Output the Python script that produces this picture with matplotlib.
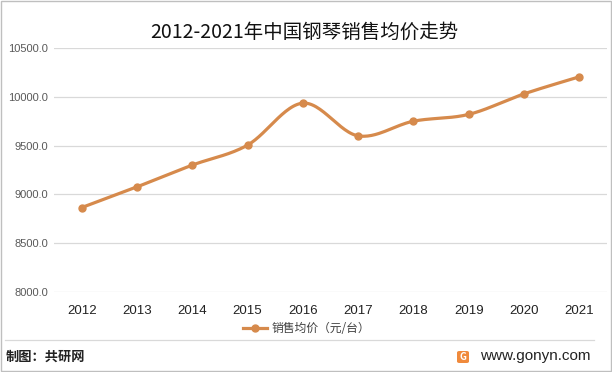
import numpy as np
import matplotlib
matplotlib.use("Agg")
import matplotlib.pyplot as plt
from matplotlib.patches import Rectangle, FancyBboxPatch
from matplotlib.lines import Line2D

plt.rcParams['font.family'] = ['Noto Sans CJK SC', 'DejaVu Sans']

# data
years = ["2012", "2013", "2014", "2015", "2016", "2017", "2018", "2019", "2020", "2021"]
avg_price = [8865, 9077, 9300, 9505, 9935, 9600, 9750, 9820, 10030, 10205]
y_ticks = [8000, 8500, 9000, 9500, 10000, 10500]

title = "2012-2021年中国钢琴销售均价走势"
series_name = "销售均价（元/台）"
source_text = "制图：共研网"
site_text = "www.gonyn.com"

LINE_COLOR = "#D68A4C"


# excel-style smoothed line through the points (bezier, tension 1/6)
def smooth_curve(xs, ys, steps=30):
    xs = np.asarray(xs, float)
    ys = np.asarray(ys, float)
    n = len(xs)
    out_x, out_y = [], []
    for i in range(n - 1):
        p0 = (xs[max(i - 1, 0)], ys[max(i - 1, 0)])
        p1 = (xs[i], ys[i])
        p2 = (xs[i + 1], ys[i + 1])
        p3 = (xs[min(i + 2, n - 1)], ys[min(i + 2, n - 1)])
        c1 = (p1[0] + (p2[0] - p0[0]) / 6, p1[1] + (p2[1] - p0[1]) / 6)
        c2 = (p2[0] - (p3[0] - p1[0]) / 6, p2[1] - (p3[1] - p1[1]) / 6)
        t = np.linspace(0, 1, steps)
        bx = (1 - t) ** 3 * p1[0] + 3 * (1 - t) ** 2 * t * c1[0] + 3 * (1 - t) * t ** 2 * c2[0] + t ** 3 * p2[0]
        by = (1 - t) ** 3 * p1[1] + 3 * (1 - t) ** 2 * t * c1[1] + 3 * (1 - t) * t ** 2 * c2[1] + t ** 3 * p2[1]
        out_x.extend(bx)
        out_y.extend(by)
    return out_x, out_y


W, H = 612, 372
fig = plt.figure(figsize=(W / 100, H / 100), dpi=100)

# plot area in pixels: left 54, right 607, top (10500) 48, bottom (8000) 292
ax = fig.add_axes([54 / W, 1 - 292 / H, (607 - 54) / W, (292 - 48) / H])

x = np.arange(len(years))
sx, sy = smooth_curve(x, avg_price)
ax.plot(sx, sy, color=LINE_COLOR, lw=2.3, solid_capstyle="round", zorder=3)
ax.plot(x, avg_price, "o", color=LINE_COLOR, ms=5, zorder=4)

ax.set_xlim(-0.5, len(years) - 0.5)
ax.set_ylim(8000, 10500)
ax.set_yticks(y_ticks)
ax.set_yticklabels([f"{v:.1f}" for v in y_ticks], fontsize=8, color="#595959",
                   family=['Liberation Sans', 'DejaVu Sans'])
ax.set_xticks(x)
ax.set_xticklabels(years, fontsize=9.5, color="#222222", family=['Liberation Sans', 'DejaVu Sans'])
ax.tick_params(length=0, pad=4)
ax.tick_params(axis="x", pad=9)
ax.grid(axis="y", color="#D9D9D9", lw=0.9)
ax.set_axisbelow(True)
for s in ax.spines.values():
    s.set_visible(False)
ax.patch.set_alpha(0)

fig.text(304 / W, 1 - 32 / H, title, ha="center", va="center", fontsize=14, color="#111111")

# legend
lx, ly = 243 / W, 1 - 328 / H
fig.add_artist(Line2D([lx, lx + 24 / W], [ly, ly], color=LINE_COLOR, lw=2.3,
                      transform=fig.transFigure))
fig.add_artist(Line2D([lx + 12 / W], [ly], color=LINE_COLOR, marker="o", ms=5,
                      transform=fig.transFigure))
fig.text(lx + 29 / W, ly, series_name, ha="left", va="center", fontsize=8.5, color="#404040")

# separator and footer
fig.add_artist(Line2D([5 / W, 594 / W], [1 - 340 / H, 1 - 340 / H], color="#D9D9D9", lw=0.9,
                      transform=fig.transFigure))
fig.text(6 / W, 1 - 357 / H, source_text, ha="left", va="center", fontsize=9.5,
         fontweight="bold", color="#222222")
fig.add_artist(FancyBboxPatch((457 / W, 1 - 363 / H), 12 / W, 12 / H,
                              boxstyle="round,pad=0,rounding_size=0.004",
                              fc="#F08A3C", ec="none", transform=fig.transFigure))
fig.text(463 / W, 1 - 357 / H, "G", ha="center", va="center", fontsize=7, fontweight="bold",
         color="white")
fig.text(480 / W, 1 - 356 / H, site_text, ha="left", va="center", fontsize=11, color="#222222",
         family=['Liberation Sans', 'DejaVu Sans'])

# outer border
fig.add_artist(Rectangle((1 / W, 1 / H), (W - 2) / W, (H - 2) / H, fill=False,
                         ec="#BFBFBF", lw=1, transform=fig.transFigure))

fig.savefig("out.png", dpi=100)
